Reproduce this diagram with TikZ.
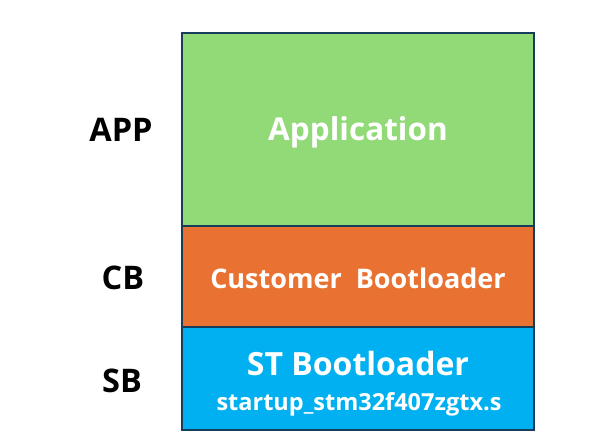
\documentclass[tikz,border=0pt]{standalone}
\usepackage{fontspec}
\setmainfont{Open Sans}
\begin{document}
\begin{tikzpicture}[x=1pt,y=-1pt,
  layer/.style={draw=edge,line width=1.6pt,anchor=north west,inner sep=0pt,outer sep=0pt},
  inbox/.style={text=white,font=\bfseries,inner sep=0pt},
  side/.style={text=black,font=\fontsize{32.5}{36}\selectfont\bfseries,inner sep=0pt}]
\definecolor{edge}{RGB}{22,62,92}
\definecolor{appgreen}{RGB}{146,217,120}
\definecolor{cborange}{RGB}{233,114,50}
\definecolor{sbblue}{RGB}{0,176,240}
\useasboundingbox (0,0) rectangle (611,443);
\node[layer,fill=appgreen,minimum width=352pt,minimum height=193pt] (app) at (182,33) {};
\node[layer,fill=cborange,minimum width=352pt,minimum height=101pt] (cb) at (182,226) {};
\node[layer,fill=sbblue,minimum width=352pt,minimum height=103pt] (sb) at (182,327) {};
\node[inbox,font=\fontsize{31.5}{36}\selectfont\bfseries] (apptext) at (358,132.5) {Application};
\node[inbox,font=\fontsize{27}{32}\selectfont\bfseries] (cbtext) at (358,278) {Customer\ \ Bootloader};
\node[inbox,font=\fontsize{32}{36}\selectfont\bfseries] (sbtext) at (358,364) {ST Bootloader};
\node[inbox,font=\fontsize{23.5}{28}\selectfont\bfseries] (sbfile) at (359,404) {startup\_stm32f407zgtx.s};
\node[side] (applabel) at (121,130) {APP};
\node[side] (cblabel) at (123,278) {CB};
\node[side] (sblabel) at (122,381) {SB};
\end{tikzpicture}
\end{document}
